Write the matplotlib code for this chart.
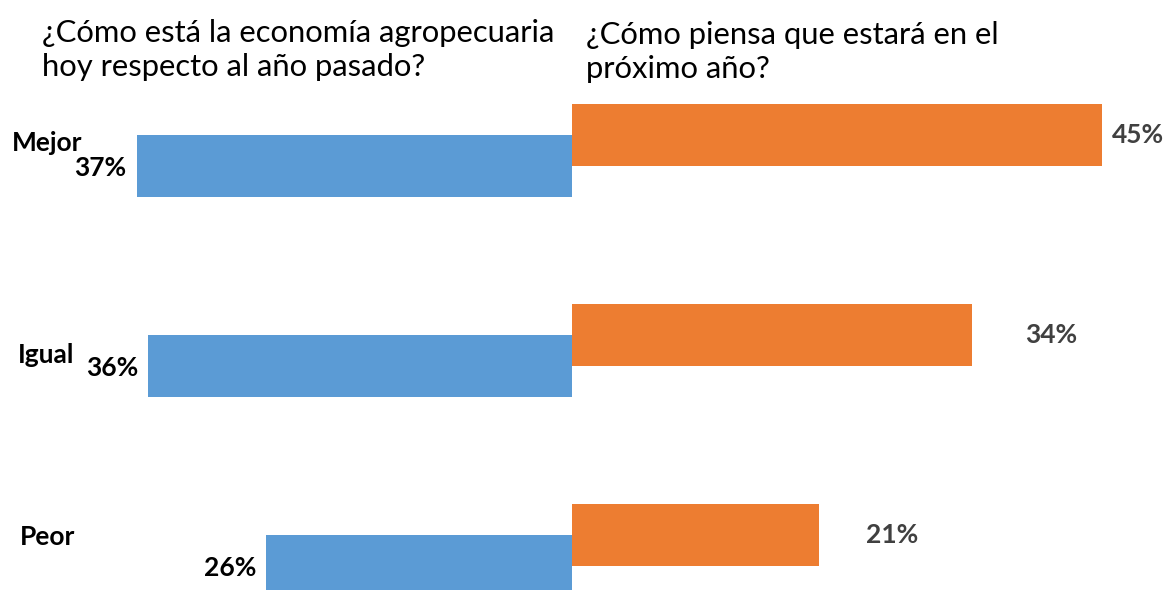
import matplotlib
matplotlib.use("Agg")
import matplotlib.pyplot as plt

categories = ["Mejor", "Igual", "Peor"]
hoy = [37, 36, 26]          # blue, left side
proximo = [45, 34, 21]      # orange, right side
title_left = "¿Cómo está la economía agropecuaria\nhoy respecto al año pasado?"
title_right = "¿Cómo piensa que estará en el\npróximo año?"

BLUE = "#5B9BD5"
ORANGE = "#ED7D31"

plt.rcParams['font.family'] = ['Lato', 'DejaVu Sans']

W, H = 1168, 590
fig = plt.figure(figsize=(W / 100, H / 100), dpi=100)
ax = fig.add_axes([0, 0, 1, 1])

px_per_unit_x = 11.77
x0_px = 572
ax.set_xlim(-x0_px / px_per_unit_x, (W - x0_px) / px_per_unit_x)
y0_px = 150.5
px_per_unit_y = 200
ax.set_ylim((H - y0_px) / px_per_unit_y, -y0_px / px_per_unit_y)
ax.axis('off')

bar_h = 0.31
shift = bar_h / 4
ypos = list(range(len(categories)))
ax.barh([y - shift for y in ypos], proximo, height=bar_h, color=ORANGE, edgecolor='none')
ax.barh([y + shift for y in ypos], [-v for v in hoy], height=bar_h, color=BLUE, edgecolor='none')

# value labels
right_offsets = [0.85, 4.5, 4.0]
for y, v, off in zip(ypos, proximo, right_offsets):
    ax.text(v + off, y - shift, f"{v}%", ha='left', va='center',
            fontsize=19, fontweight='bold', color='#404040')
for y, v in zip(ypos, hoy):
    ax.text(-v - 0.85, y + shift + 0.01, f"{v}%", ha='right', va='center',
            fontsize=19, fontweight='bold', color='black')

# category labels (figure pixel positions)
cat_pos = [(12, 143), (18, 355), (20, 537)]
for c, (xp, yp) in zip(categories, cat_pos):
    fig.text(xp / W, 1 - yp / H, c, ha='left', va='center',
             fontsize=19, fontweight='bold', color='black')

fig.text(42 / W, 1 - 50 / H, title_left, ha='left', va='center',
         fontsize=22.3, color='black', linespacing=1.3)
fig.text(586 / W, 1 - 52 / H, title_right, ha='left', va='center',
         fontsize=22.3, color='black', linespacing=1.3)

fig.savefig("out.png", dpi=100, facecolor='white')
